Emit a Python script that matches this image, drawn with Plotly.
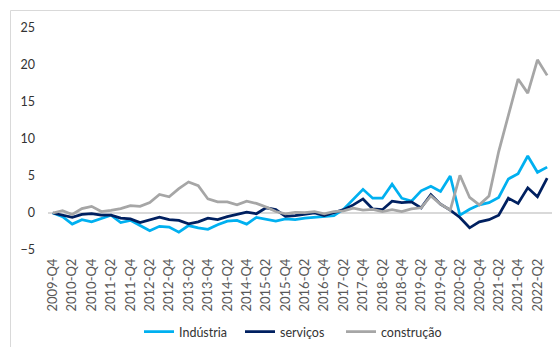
import plotly.graph_objects as go

quarters = [
    "2009-Q4",
    "2010-Q1", "2010-Q2", "2010-Q3", "2010-Q4",
    "2011-Q1", "2011-Q2", "2011-Q3", "2011-Q4",
    "2012-Q1", "2012-Q2", "2012-Q3", "2012-Q4",
    "2013-Q1", "2013-Q2", "2013-Q3", "2013-Q4",
    "2014-Q1", "2014-Q2", "2014-Q3", "2014-Q4",
    "2015-Q1", "2015-Q2", "2015-Q3", "2015-Q4",
    "2016-Q1", "2016-Q2", "2016-Q3", "2016-Q4",
    "2017-Q1", "2017-Q2", "2017-Q3", "2017-Q4",
    "2018-Q1", "2018-Q2", "2018-Q3", "2018-Q4",
    "2019-Q1", "2019-Q2", "2019-Q3", "2019-Q4",
    "2020-Q1", "2020-Q2", "2020-Q3", "2020-Q4",
    "2021-Q1", "2021-Q2", "2021-Q3", "2021-Q4",
    "2022-Q1", "2022-Q2", "2022-Q3",
]

industria = [
    0.0, -0.5, -1.5, -0.9, -1.2, -0.8, -0.3, -1.3, -1.0, -1.7,
    -2.4, -1.8, -1.9, -2.6, -1.7, -2.0, -2.2, -1.6, -1.1, -1.0,
    -1.5, -0.6, -0.8, -1.1, -0.8, -0.9, -0.7, -0.6, -0.45, -0.35,
    0.5, 1.8, 3.2, 2.0, 2.0, 3.9, 2.0, 1.6, 3.0, 3.6,
    2.9, 5.0, -0.3, 0.5, 1.1, 1.4, 2.1, 4.6, 5.3, 7.7,
    5.5, 6.2,
]

servicos = [
    0.0, -0.3, -0.6, -0.2, -0.1, -0.3, -0.3, -0.7, -0.8, -1.3,
    -0.9, -0.55, -0.9, -1.0, -1.45, -1.2, -0.7, -0.9, -0.5, -0.2,
    0.1, -0.1, 0.7, 0.45, -0.45, -0.35, -0.2, 0.0, -0.35, 0.0,
    0.45, 1.1, 1.9, 0.55, 0.45, 1.6, 1.4, 1.5, 0.7, 2.5,
    1.2, 0.4, -0.6, -2.0, -1.2, -0.9, -0.3, 2.0, 1.3, 3.4,
    2.2, 4.7,
]

construcao = [
    0.0, 0.3, -0.2, 0.6, 0.9, 0.2, 0.35, 0.6, 1.0, 0.9,
    1.4, 2.5, 2.2, 3.3, 4.2, 3.7, 1.9, 1.5, 1.5, 1.1,
    1.6, 1.3, 0.8, 0.2, -0.1, 0.1, 0.05, 0.2, -0.1, 0.2,
    0.3, 0.65, 0.4, 0.5, 0.2, 0.45, 0.2, 0.55, 0.7, 2.3,
    1.2, 0.4, 5.1, 2.1, 1.1, 2.3, 8.3, 13.3, 18.1, 16.2,
    20.7, 18.6,
]

y_ticks = [-5, 0, 5, 10, 15, 20, 25]

FONT = "Lato, 'Open Sans', sans-serif"
TEXT = "#333333"
AXIS_TEXT = "#595959"

series = [
    ("Indústria", industria, "#00B0F0"),
    ("serviços", servicos, "#002060"),
    ("construção", construcao, "#A6A6A6"),
]

fig = go.Figure()
for name, vals, color in series:
    fig.add_trace(go.Scatter(
        x=quarters, y=vals, name=name, mode="lines",
        line=dict(color=color, width=2.75),
    ))

# layout geometry (pixels)
W, H = 560, 347
L, R, T, B = 48, 8, 28, 97
pw, ph = W - L - R, H - T - B


def px_x(p):
    return (p - L) / pw


def px_y(p):
    return (H - B - p) / ph


fig.update_layout(
    width=W, height=H,
    margin=dict(l=L, r=R, t=T, b=B, pad=0, autoexpand=False),
    paper_bgcolor="white", plot_bgcolor="white",
    font=dict(family=FONT, size=12, color=TEXT),
    showlegend=True,
    legend=dict(
        orientation="h", x=px_x(139), xanchor="left",
        y=px_y(332), yanchor="middle",
        font=dict(family=FONT, size=12.5, color=TEXT),
        itemwidth=30, entrywidth=56, entrywidthmode="pixels",
        tracegroupgap=0,
        bgcolor="rgba(0,0,0,0)",
    ),
    xaxis=dict(
        type="category",
        range=[-0.5, len(quarters) - 0.5],
        tickmode="array",
        tickvals=quarters[::2],
        ticktext=quarters[::2],
        tickangle=-90,
        automargin=False,
        showgrid=False, zeroline=False, showline=False,
        ticks="", ticklabelstandoff=5,
        tickfont=dict(family=FONT, size=13, color=AXIS_TEXT),
    ),
    yaxis=dict(
        range=[-5, 25],
        tickvals=y_ticks,
        automargin=False,
        showgrid=False,
        zeroline=True, zerolinecolor="#D9D9D9", zerolinewidth=1.5,
        showline=False, ticks="", ticklabelstandoff=12,
        tickfont=dict(family=FONT, size=12.5, color=TEXT),
    ),
    shapes=[dict(
        type="rect", xref="paper", yref="paper",
        x0=px_x(10.5), x1=px_x(600), y0=px_y(400), y1=px_y(10.5),
        line=dict(color="#D9D9D9", width=1), fillcolor="rgba(0,0,0,0)",
        layer="below",
    )],
)

fig.write_html("out.html")
